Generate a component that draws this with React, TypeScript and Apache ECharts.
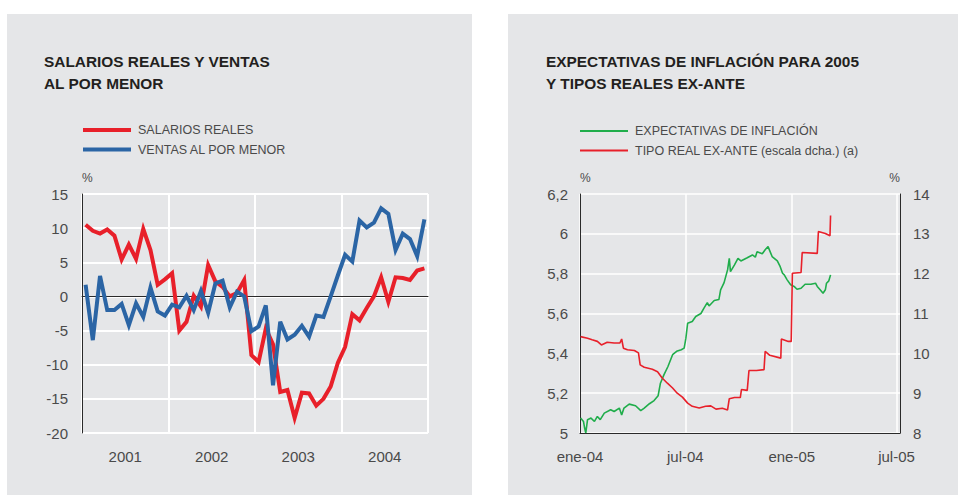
import React, { useEffect, useRef } from 'react';
import * as echarts from 'echarts';

// ---------- Left chart data ----------
const years = ['2001', '2002', '2003', '2004'];
const monthNames = ['ene', 'feb', 'mar', 'abr', 'may', 'jun', 'jul', 'ago', 'sep', 'oct', 'nov', 'dic'];
const monthCategories = years.flatMap((y) => monthNames.map((m) => `${m}-${y}`));

const salariosReales = [
  10.5, 9.6, 9.2, 9.8, 8.9, 5.4, 7.6, 5.5, 9.9, 6.8, 1.7, 2.5,
  3.4, -5.0, -3.7, 0.1, -1.5, 4.6, 2.2, 1.4, 0.0, 0.5, 2.4, -8.6,
  -9.6, -4.7, -7.0, -14.0, -13.7, -17.8, -14.1, -14.2, -16.0, -15.0, -13.2, -9.7,
  -7.4, -2.6, -3.5, -1.7, 0.0, 2.8, -0.8, 2.8, 2.7, 2.4, 3.8, 4.1,
];

const ventasPorMenor = [
  1.7, -6.4, 3.0, -2.0, -2.0, -1.1, -4.2, -1.0, -3.0, 1.3, -2.2, -2.8,
  -1.2, -1.6, 0.1, -2.0, 0.8, -2.4, 1.9, 2.3, -1.6, 0.7, 0.0, -5.1,
  -4.4, -1.3, -13.0, -3.7, -6.3, -5.6, -4.3, -5.9, -2.8, -3.0, 0.0, 3.1,
  6.1, 5.1, 11.1, 10.1, 10.8, 12.9, 12.1, 6.8, 9.2, 8.4, 5.9, 11.3,
];

// ---------- Right chart data ----------
const expectativasInflacion: [string, number][] = [
  ['2004-01-02', 5.075], ['2004-01-07', 5.058], ['2004-01-09', 5.025], ['2004-01-11', 5.0],
  ['2004-01-14', 5.067], ['2004-01-20', 5.075], ['2004-01-26', 5.058], ['2004-01-31', 5.083],
  ['2004-02-05', 5.067], ['2004-02-12', 5.10], ['2004-02-23', 5.117], ['2004-02-29', 5.108],
  ['2004-03-09', 5.125], ['2004-03-13', 5.09], ['2004-03-17', 5.125], ['2004-03-26', 5.145],
  ['2004-04-06', 5.137], ['2004-04-15', 5.112], ['2004-04-21', 5.125], ['2004-04-30', 5.147],
  ['2004-05-08', 5.163], ['2004-05-15', 5.187], ['2004-05-19', 5.25], ['2004-05-25', 5.292],
  ['2004-06-01', 5.334], ['2004-06-09', 5.393], ['2004-06-16', 5.41], ['2004-06-24', 5.418],
  ['2004-06-29', 5.426], ['2004-07-02', 5.476], ['2004-07-05', 5.551], ['2004-07-13', 5.56],
  ['2004-07-19', 5.585], ['2004-07-28', 5.60], ['2004-08-02', 5.626], ['2004-08-08', 5.655],
  ['2004-08-11', 5.638], ['2004-08-20', 5.665], ['2004-08-28', 5.67], ['2004-08-31', 5.719],
  ['2004-09-06', 5.755], ['2004-09-12', 5.819], ['2004-09-15', 5.877], ['2004-09-17', 5.81],
  ['2004-09-24', 5.844], ['2004-09-30', 5.877], ['2004-10-05', 5.864], ['2004-10-16', 5.88],
  ['2004-10-25', 5.894], ['2004-10-30', 5.883], ['2004-11-02', 5.91], ['2004-11-11', 5.90],
  ['2004-11-16', 5.92], ['2004-11-21', 5.936], ['2004-11-28', 5.886], ['2004-12-07', 5.864],
  ['2004-12-12', 5.835], ['2004-12-16', 5.802], ['2004-12-19', 5.794], ['2004-12-24', 5.769],
  ['2004-12-30', 5.744], ['2005-01-05', 5.736], ['2005-01-10', 5.722], ['2005-01-17', 5.727],
  ['2005-01-24', 5.747], ['2005-02-03', 5.747], ['2005-02-11', 5.752], ['2005-02-14', 5.736],
  ['2005-02-19', 5.719], ['2005-02-24', 5.702], ['2005-02-28', 5.719], ['2005-03-02', 5.752],
  ['2005-03-06', 5.764], ['2005-03-09', 5.794],
];

const tipoRealExAnte: [string, number][] = [
  ['2004-01-02', 10.42], ['2004-01-14', 10.38], ['2004-01-22', 10.34], ['2004-01-31', 10.30],
  ['2004-02-07', 10.21], ['2004-02-17', 10.28], ['2004-02-29', 10.26], ['2004-03-10', 10.26],
  ['2004-03-13', 10.36], ['2004-03-16', 10.13], ['2004-03-23', 10.09], ['2004-04-04', 10.07],
  ['2004-04-11', 10.01], ['2004-04-14', 9.71], ['2004-04-21', 9.65], ['2004-05-05', 9.60],
  ['2004-05-14', 9.54], ['2004-05-22', 9.38], ['2004-05-31', 9.25], ['2004-06-09', 9.13],
  ['2004-06-17', 9.00], ['2004-06-26', 8.90], ['2004-07-05', 8.75], ['2004-07-13', 8.67],
  ['2004-07-25', 8.63], ['2004-08-05', 8.67], ['2004-08-14', 8.68], ['2004-08-23', 8.60],
  ['2004-09-03', 8.62], ['2004-09-12', 8.58], ['2004-09-15', 8.86], ['2004-09-24', 8.89],
  ['2004-10-04', 8.89], ['2004-10-06', 9.09], ['2004-10-16', 9.07], ['2004-10-19', 9.57],
  ['2004-11-01', 9.57], ['2004-11-14', 9.59], ['2004-11-16', 10.05], ['2004-11-24', 9.95],
  ['2004-12-13', 9.88], ['2004-12-14', 10.36], ['2004-12-26', 10.30], ['2004-12-31', 10.30],
  ['2005-01-02', 12.01], ['2005-01-17', 12.03], ['2005-01-19', 12.53], ['2005-02-14', 12.51],
  ['2005-02-16', 13.06], ['2005-02-28', 13.01], ['2005-03-08', 12.95], ['2005-03-09', 13.46],
];

const rightTickDates = ['2004-01-01', '2004-07-01', '2005-01-01', '2005-07-01'];

const titleLeft = 'SALARIOS REALES Y VENTAS\nAL POR MENOR';
const titleRight = 'EXPECTATIVAS DE INFLACIÓN PARA 2005\nY TIPOS REALES EX-ANTE';

// ---------- Styles ----------
const FONT = '"Liberation Sans", Arial, Helvetica, sans-serif';
const TEXT = '#4a4a4a';
const PANEL = '#e5e6e8';
const RED = '#e8202a';
const BLUE = '#2b65a5';
const GREEN = '#20ad4b';

function toTs(s: string) {
  const [y, m, d] = s.split('-').map(Number);
  return new Date(y, m - 1, d).getTime();
}

export default function App() {
  const ref = useRef<HTMLDivElement>(null);

  useEffect(() => {
    if (!ref.current) return;
    const chart = echarts.init(ref.current, undefined, { renderer: 'svg' });
    const tickTs = rightTickDates.map(toTs);
    const labelStyle = { fontFamily: FONT, fontSize: 15, color: TEXT };

    const option: any = {
      animation: false,
      textStyle: { fontFamily: FONT },
      graphic: [
        { type: 'rect', z: -10, silent: true, shape: { x: 7, y: 14, width: 465, height: 490 }, style: { fill: PANEL } },
        { type: 'rect', z: -10, silent: true, shape: { x: 508, y: 14, width: 460, height: 490 }, style: { fill: PANEL } },
        {
          type: 'text', x: 44, y: 51, silent: true,
          style: { text: titleLeft, font: `bold 15.4px ${FONT}`, fill: '#231f20', lineHeight: 21.6 },
        },
        {
          type: 'text', x: 546, y: 51, silent: true,
          style: { text: titleRight, font: `bold 15.4px ${FONT}`, fill: '#231f20', lineHeight: 21.6 },
        },
      ],
      legend: [
        {
          left: 83, top: 123, padding: 0, orient: 'vertical', icon: 'rect', itemWidth: 48, itemHeight: 4,
          itemGap: 5.5, selectedMode: false, itemStyle: { borderWidth: 0 },
          data: ['SALARIOS REALES', 'VENTAS AL POR MENOR'],
          textStyle: { fontFamily: FONT, fontSize: 12.5, color: TEXT, lineHeight: 14, padding: [0, 0, 0, 2] },
        },
        {
          left: 580, top: 124, padding: 0, orient: 'vertical', icon: 'rect', itemWidth: 48, itemHeight: 2,
          itemGap: 5.5, selectedMode: false, itemStyle: { borderWidth: 0 },
          data: ['EXPECTATIVAS DE INFLACIÓN', 'TIPO REAL EX-ANTE (escala dcha.) (a)'],
          textStyle: { fontFamily: FONT, fontSize: 12.5, color: TEXT, lineHeight: 14, padding: [0, 0, 0, 2] },
        },
      ],
      grid: [
        { left: 82, right: 530, top: 194, bottom: 62 },
        { left: 580, right: 58, top: 194, bottom: 62 },
      ],
      xAxis: [
        {
          gridIndex: 0, type: 'category', data: monthCategories, boundaryGap: true, position: 'bottom',
          axisLine: { show: true, onZero: true, lineStyle: { color: '#2a2a2a', width: 1 } },
          axisTick: { show: false }, axisLabel: { show: false }, splitLine: { show: false },
        },
        {
          gridIndex: 0, type: 'category', data: years, boundaryGap: true, position: 'bottom',
          axisLine: { show: false, onZero: false }, axisTick: { show: false },
          axisLabel: { ...labelStyle, margin: 16 },
          splitLine: { show: true, interval: 0, lineStyle: { color: '#ffffff', width: 2 } },
        },
        {
          gridIndex: 1, type: 'value', min: toTs('2004-01-01'), max: toTs('2005-07-07'),
          axisLine: { show: true, onZero: false, lineStyle: { color: '#2a2a2a', width: 1 } },
          axisTick: { show: false, customValues: tickTs },
          axisLabel: {
            ...labelStyle, margin: 16, customValues: tickTs, hideOverlap: false,
            showMinLabel: true, showMaxLabel: true,
            formatter: (v: number) => {
              const d = new Date(v);
              return `${monthNames[d.getMonth()]}-${String(d.getFullYear()).slice(2)}`;
            },
          },
          splitLine: { show: true, lineStyle: { color: '#ffffff', width: 1.5 } },
        },
      ],
      yAxis: [
        {
          gridIndex: 0, type: 'value', min: -20, max: 15, interval: 5,
          name: '%', nameLocation: 'end', nameGap: 10,
          nameTextStyle: { fontFamily: FONT, fontSize: 12, color: TEXT, align: 'left' },
          axisLine: { show: true, lineStyle: { color: '#2a2a2a', width: 1 } },
          axisTick: { show: false },
          axisLabel: { ...labelStyle, margin: 14 },
          splitLine: { show: true, lineStyle: { color: '#ffffff', width: 2 } },
        },
        {
          gridIndex: 1, type: 'value', min: 5, max: 6.2, interval: 0.2,
          name: '%', nameLocation: 'end', nameGap: 10,
          nameTextStyle: { fontFamily: FONT, fontSize: 12, color: TEXT, align: 'left' },
          axisLine: { show: true, lineStyle: { color: '#2a2a2a', width: 1 } },
          axisTick: { show: false },
          axisLabel: {
            ...labelStyle, margin: 12,
            formatter: (v: number) => v.toFixed(1).replace(/\.0$/, '').replace('.', ','),
          },
          splitLine: { show: true, lineStyle: { color: '#ffffff', width: 1.5 } },
        },
        {
          gridIndex: 1, type: 'value', min: 8, max: 14, interval: 1, position: 'right',
          name: '%', nameLocation: 'end', nameGap: 10,
          nameTextStyle: { fontFamily: FONT, fontSize: 12, color: TEXT, align: 'right' },
          axisLine: { show: true, lineStyle: { color: '#2a2a2a', width: 1 } },
          axisTick: { show: false },
          axisLabel: { ...labelStyle, margin: 13 },
          splitLine: { show: false },
        },
      ],
      series: [
        {
          name: 'SALARIOS REALES', type: 'line', xAxisIndex: 0, yAxisIndex: 0,
          data: salariosReales, symbol: 'none', color: RED,
          lineStyle: { width: 4, color: RED, join: 'miter' },
        },
        {
          name: 'VENTAS AL POR MENOR', type: 'line', xAxisIndex: 0, yAxisIndex: 0,
          data: ventasPorMenor, symbol: 'none', color: BLUE,
          lineStyle: { width: 4, color: BLUE, join: 'miter' },
        },
        {
          name: 'EXPECTATIVAS DE INFLACIÓN', type: 'line', xAxisIndex: 2, yAxisIndex: 1,
          data: expectativasInflacion.map(([d, v]) => [toTs(d), v]), symbol: 'none', color: GREEN,
          lineStyle: { width: 1.6, color: GREEN },
        },
        {
          name: 'TIPO REAL EX-ANTE (escala dcha.) (a)', type: 'line', xAxisIndex: 2, yAxisIndex: 2,
          data: tipoRealExAnte.map(([d, v]) => [toTs(d), v]), symbol: 'none', color: RED,
          lineStyle: { width: 1.6, color: RED },
        },
      ],
    };

    chart.setOption(option);
    return () => chart.dispose();
  }, []);

  return (
    <div
      ref={ref}
      style={{ position: 'absolute', left: 0, top: 0, width: 958, height: 495, background: '#ffffff' }}
    />
  );
}
